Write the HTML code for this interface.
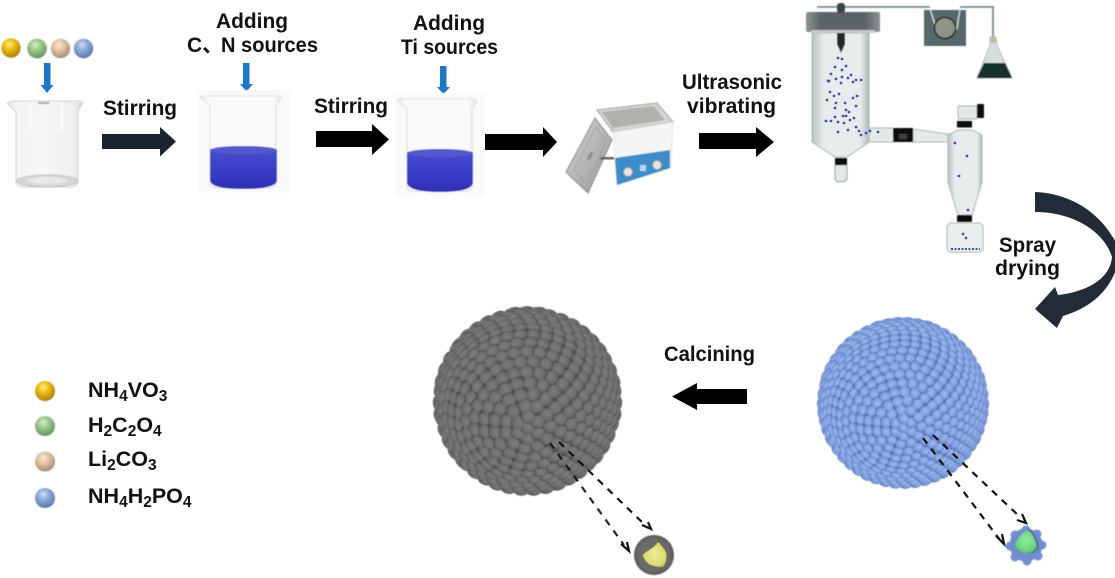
<!DOCTYPE html>
<html><head><meta charset="utf-8"><style>
html,body{margin:0;padding:0;background:#fff;width:1115px;height:578px;overflow:hidden}
svg{display:block}
text{font-family:"Liberation Sans","Noto Sans CJK SC",sans-serif;font-weight:700;fill:#111;font-size:21px}
.l{font-size:21.5px}
.s{font-size:15.5px}
</style></head><body>
<svg id="v" width="1115" height="578" viewBox="0 0 1115 578" xmlns="http://www.w3.org/2000/svg">
<defs>
<radialGradient id="by" cx=".42" cy=".32" r=".75"><stop offset="0" stop-color="#ffec80"/><stop offset=".35" stop-color="#eebf18"/><stop offset=".8" stop-color="#b98a08"/><stop offset="1" stop-color="#8a7430"/></radialGradient>
<radialGradient id="bg" cx=".42" cy=".32" r=".75"><stop offset="0" stop-color="#d6ecc8"/><stop offset=".4" stop-color="#9cc68a"/><stop offset=".85" stop-color="#6f9868"/><stop offset="1" stop-color="#6a8570"/></radialGradient>
<radialGradient id="bp" cx=".42" cy=".32" r=".75"><stop offset="0" stop-color="#f8e8d6"/><stop offset=".4" stop-color="#e2c0a0"/><stop offset=".85" stop-color="#ae927e"/><stop offset="1" stop-color="#8e8278"/></radialGradient>
<radialGradient id="bb" cx=".42" cy=".32" r=".75"><stop offset="0" stop-color="#d0def6"/><stop offset=".4" stop-color="#8aa8d8"/><stop offset=".85" stop-color="#5f80ae"/><stop offset="1" stop-color="#5e7090"/></radialGradient>
<radialGradient id="gb" cx=".45" cy=".4" r=".6"><stop offset="0" stop-color="#7c7c7c"/><stop offset=".7" stop-color="#6e6e6e"/><stop offset="1" stop-color="#525252"/></radialGradient>
<radialGradient id="ub" cx=".45" cy=".4" r=".6"><stop offset="0" stop-color="#9ab8f0"/><stop offset=".65" stop-color="#83a2e0"/><stop offset="1" stop-color="#5a76b6"/></radialGradient>
<radialGradient id="edgeG" cx=".5" cy=".5" r=".5"><stop offset=".8" stop-color="#000" stop-opacity="0"/><stop offset="1" stop-color="#222" stop-opacity=".22"/></radialGradient>
<radialGradient id="core" cx=".5" cy=".45" r=".6"><stop offset="0" stop-color="#8ef09a"/><stop offset=".8" stop-color="#6ccf80"/><stop offset="1" stop-color="#3f8a5a"/></radialGradient>
<radialGradient id="yc" cx=".5" cy=".5" r=".6"><stop offset="0" stop-color="#eeee94"/><stop offset=".8" stop-color="#d8d870"/><stop offset="1" stop-color="#a8a850"/></radialGradient>
<linearGradient id="glass" x1="0" x2="1" y1="0" y2="0"><stop offset="0" stop-color="#dcdee0"/><stop offset=".12" stop-color="#f4f5f6"/><stop offset=".5" stop-color="#f5f6f7"/><stop offset=".88" stop-color="#eff0f1"/><stop offset="1" stop-color="#d2d5d7"/></linearGradient>
<linearGradient id="glass2" x1="0" x2="1" y1="0" y2="0"><stop offset="0" stop-color="#e8e9ee"/><stop offset=".1" stop-color="#fafafc"/><stop offset=".9" stop-color="#fafafc"/><stop offset="1" stop-color="#e4e5ea"/></linearGradient>
<linearGradient id="liq" x1="0" x2="0" y1="0" y2="1"><stop offset="0" stop-color="#4a4ed0"/><stop offset=".6" stop-color="#383cc8"/><stop offset="1" stop-color="#2c30b0"/></linearGradient>
<linearGradient id="tube" x1="0" x2="1" y1="0" y2="0"><stop offset="0" stop-color="#b8c2c2"/><stop offset=".2" stop-color="#e6ebeb"/><stop offset=".85" stop-color="#e8ecec"/><stop offset="1" stop-color="#aeb8b8"/></linearGradient>
<linearGradient id="lid" x1="0" x2="1" y1="0" y2="0"><stop offset="0" stop-color="#8c9494"/><stop offset=".2" stop-color="#5c6466"/><stop offset=".8" stop-color="#5c6466"/><stop offset="1" stop-color="#8c9494"/></linearGradient>
<linearGradient id="steel" x1="0" x2="1" y1="0" y2="1"><stop offset="0" stop-color="#d8d8d8"/><stop offset=".5" stop-color="#b6b6b6"/><stop offset="1" stop-color="#969696"/></linearGradient>
<filter id="bl" x="-5%" y="-5%" width="110%" height="110%"><feGaussianBlur stdDeviation=".55"/></filter>
</defs>
<rect width="1115" height="578" fill="#fff"/>

<g filter="url(#bl)">
<circle cx="11" cy="48" r="9.7" fill="url(#by)"/><circle cx="37" cy="48.500" r="9.9" fill="url(#bg)"/><circle cx="60.500" cy="48.500" r="9.7" fill="url(#bp)"/><circle cx="83.500" cy="48.500" r="9.7" fill="url(#bb)"/>
</g>
<g fill="#1f77c8">
<path d="M44,63h6.500v22h3l-6.500,8l-6.500,-8h3.500z"/>
<path d="M243,63h6.500v21h3.500l-6.500,7.500l-6.500,-7.500h3z"/>
<path d="M440,66h6.500v21h3.500l-6.500,7l-6.500,-7h3z"/>
</g>

<g filter="url(#bl)">
<path d="M7,103 L12,101 H80 L83,103 L78,111 V180 Q78,187 70,187 H23 Q16,187 16,180 V112 Z" fill="url(#glass)" stroke="#cfd2d4" stroke-width="1"/>
<path d="M30,104V130M62,104V130" stroke="#fbfbfb" stroke-width="3" fill="none"/>
<ellipse cx="47" cy="181" rx="30" ry="6" fill="#d6d8d9" stroke="#bcbfc0"/>
<ellipse cx="47" cy="180.500" rx="20" ry="3.500" fill="#e6e8e9"/>
<rect x="38" y="102" width="11" height="2" fill="#a6a9ab"/>
<rect x="197" y="90" width="93" height="103" fill="#fafafb"/>
<rect x="395" y="93" width="90" height="103" fill="#fafafb"/>
<path d="M200,97 L206,96 H278 L281,98 L276,106 V183 Q276,188 268,188 H218 Q210,188 210,183 V106 Z" fill="url(#glass2)" stroke="#dcdde2"/>
<path d="M210,150 Q243,142 277,150 V180 Q277,189 243,189 Q210,189 210,180 Z" fill="url(#liq)"/>
<ellipse cx="243.500" cy="150" rx="33.500" ry="4" fill="#5458cc"/>
<path d="M397,100 L403,99 H474 L477,101 L472,109 V186 Q472,191 464,191 H415 Q407,191 407,186 V109 Z" fill="url(#glass2)" stroke="#dcdde2"/>
<path d="M407,153 Q440,145 473,153 V182 Q473,192 440,192 Q407,192 407,182 Z" fill="url(#liq)"/>
<ellipse cx="440" cy="153" rx="33" ry="4" fill="#5458cc"/>
</g>

<path d="M102,134H160V127L176,141.500L160,156.500V149H102Z" fill="#1c2430"/>
<path d="M316,131H372V124L389,139.500L372,155V147H316Z" fill="#000"/>
<path d="M485,134H543V127L557,142L543,157V150H485Z" fill="#000"/>
<path d="M699,133H756V127L774,142L756,157V149H699Z" fill="#000"/>
<path d="M747,389H697V383L672,396.500L697,410V404H747Z" fill="#000"/>

<g filter="url(#bl)">
<path d="M597,110 L657,103 L673,122 L613,132 Z" fill="#d4d4d4" stroke="#a0a0a0"/>
<path d="M602,112 L654,106 L665,120 L613,128 Z" fill="#b0b0ac"/>
<path d="M613,132 L673,122 L671,168 L617,185 Z" fill="#f4f5f7" stroke="#d4d4d4" stroke-width=".5"/>
<path d="M615,158 L670,150 L670,168 L617,185 Z" fill="#3a8cc8"/>
<circle cx="628" cy="172" r="4.500" fill="#e6e6e6" stroke="#999"/><circle cx="657" cy="165" r="4.500" fill="#e6e6e6" stroke="#999"/>
<rect x="640" y="165" width="6" height="6" fill="#b8d8ee"/>
<path d="M566,172 L595,118 L612,140 L588,193 Z" fill="url(#steel)" stroke="#8c8c8c"/>
<path d="M574,170 L596,127 L606,141 L587,184 Z" fill="none" stroke="#a0a0a0" stroke-width=".8"/>
<ellipse cx="590" cy="156" rx="4.500" ry="1.800" fill="#888" transform="rotate(-60 590 156)"/>
<rect x="600" y="157" width="14" height="2.500" fill="#666"/>
</g>

<g filter="url(#bl)">
<path d="M817,7H930M960,7H993V38" fill="none" stroke="#7d8c8c" stroke-width="1.800"/>
<path d="M812,33H869V142L847,157H835L812,142Z" fill="url(#tube)" stroke="#a8b2b2"/>
<rect x="806" y="12" width="74" height="20" rx="2" fill="url(#lid)"/>
<rect x="811" y="30" width="64" height="3" fill="#c5cbcb"/>
<rect x="837" y="3" width="8" height="10" rx="3" fill="#3c4446"/>
<path d="M837,33H845V44L841,53L837,44Z" fill="#23292a"/>
<path d="M835,165H847V178Q847,182 841,182Q835,182 835,178Z" fill="#e2e7e7" stroke="#98a2a2"/>
<rect x="835" y="158" width="12" height="7" fill="#0c0c0c"/>
<path d="M869,128H894V142H869Z M913,129L948,134V142H913Z" fill="#e4eaea" stroke="#a8b2b2"/>
<rect x="893" y="128" width="20" height="14" fill="#111"/>
<rect x="899" y="134" width="8" height="5" fill="#3c4442"/>
<path d="M958,130H972L982,135V182L972,215H958L948,182V135Z" fill="url(#tube)" stroke="#a8b2b2"/>
<rect x="958" y="106" width="19" height="13" rx="1" fill="#e2e7e7" stroke="#a8b2b2"/>
<rect x="977" y="104" width="7" height="14" rx="1" fill="#111"/>
<rect x="957" y="121" width="15" height="6.500" fill="#0c0c0c"/>
<rect x="957" y="215" width="15" height="7" rx="1" fill="#0c0c0c"/>
<path d="M950,223H980L983,226V250L980,252H950L947,250V226Z" fill="#eaeeee" stroke="#a8b2b2"/>
<rect x="924" y="10" width="42" height="36" fill="#57686b"/>
<path d="M930,9 L936,28 Q945,44 957,28 L960,9" fill="none" stroke="#c8d0d0" stroke-width="1.500"/>
<circle cx="945" cy="28" r="10.500" fill="#8d9588" stroke="#222" stroke-width="1.500"/>
<path d="M990,37H996L997,45L1012,78H977L990,45Z" fill="#d8dede" stroke="#a0a8a8" stroke-width=".7"/>
<path d="M984,63H1005L1012,78H977Z" fill="#17302e"/>
<path d="M990,37h6v6h-6z" fill="#c3b9a0"/>
</g>
<g id="dots" fill="#4a4fb0"></g>
<path d="M951,249H980" stroke="#4a4fb0" stroke-width="2" stroke-dasharray="2 1.500"/>

<path d="M1035,192C1065,193 1095,208 1112,236L1118,245V262C1112,290 1090,308 1063,316L1057,328L1035,309L1055,287L1058,295C1085,292 1110,280 1112,257C1105,233 1075,212 1035,212Z" fill="#232a38"/>

<g filter="url(#bl)"><circle cx="527.5" cy="401" r="91" fill="#4e4e4e"/><g id="sg"></g></g>
<g filter="url(#bl)"><circle cx="903" cy="403" r="83" fill="#5570b0"/><g id="sb"></g></g>

<g stroke="#111" stroke-width="2.200" fill="none" stroke-dasharray="7 6.500">
<path d="M559,442L645,525" /><path d="M550,443L624,545" opacity=".9"/>
<path d="M933,435L1020,517"/><path d="M923,438L1000,540"/>
</g>
<g fill="none" stroke="#111" stroke-width="2.200">
<path d="M642,525L651,529L648,522"/><path d="M621,544L629,551L627,542"/>
<path d="M1017,520L1026,523L1022,514"/><path d="M996,536L1004,544L1002,534"/>
</g>

<g filter="url(#bl)">
<circle cx="654" cy="555" r="20" fill="#6a6a6a"/><circle cx="654" cy="555" r="20" fill="url(#edgeG)"/>
<path d="M642,555C648,549 654,548 658,541C662,546 667,550 667,556C667,561 666,564 664,567C657,568 650,566 647,563C645,561 643,558 642,555Z" fill="url(#yc)" stroke="#4c4c30" stroke-width=".8"/>
<g fill="#7590d0"><circle cx="1026" cy="530" r="4.500"/><circle cx="1037" cy="534" r="4.500"/><circle cx="1042" cy="545" r="4.500"/><circle cx="1038" cy="556" r="4.500"/><circle cx="1027" cy="561" r="4.500"/><circle cx="1015" cy="557" r="4.500"/><circle cx="1010" cy="546" r="4.500"/><circle cx="1015" cy="535" r="4.500"/></g>
<circle cx="1026" cy="545" r="16.500" fill="#6f8ccc"/>
<path d="M1015,546C1017,538 1022,533 1027,530C1033,534 1037,542 1037,549C1036,553 1032,554 1026,553C1021,553 1017,551 1015,546Z" fill="url(#core)"/>
<path d="M1028,529C1034,533 1038,541 1038,550" fill="none" stroke="#3c5890" stroke-width="1.200"/>
</g>

<g filter="url(#bl)">
<circle cx="45" cy="391" r="10" fill="url(#by)"/><circle cx="45" cy="426" r="10" fill="url(#bg)"/><circle cx="45" cy="461.500" r="10" fill="url(#bp)"/><circle cx="45" cy="498" r="10" fill="url(#bb)"/>
</g>

<text x="216" y="28" textLength="72" lengthAdjust="spacingAndGlyphs">Adding</text>
<text x="187" y="52">C、</text>
<text x="221" y="52" textLength="97" lengthAdjust="spacingAndGlyphs">N sources</text>
<text x="413" y="30" textLength="72" lengthAdjust="spacingAndGlyphs">Adding</text>
<text x="401" y="54" textLength="97" lengthAdjust="spacingAndGlyphs">Ti sources</text>
<text x="103" y="115" textLength="74" lengthAdjust="spacingAndGlyphs">Stirring</text>
<text x="314" y="113" textLength="74" lengthAdjust="spacingAndGlyphs">Stirring</text>
<text x="682" y="89" textLength="100" lengthAdjust="spacingAndGlyphs">Ultrasonic</text>
<text x="687" y="113" textLength="89" lengthAdjust="spacingAndGlyphs">vibrating</text>
<text x="999" y="252" textLength="57" lengthAdjust="spacingAndGlyphs">Spray</text>
<text x="995" y="275" textLength="65" lengthAdjust="spacingAndGlyphs">drying</text>
<text x="664" y="361" textLength="91" lengthAdjust="spacingAndGlyphs">Calcining</text>
<text class="l" x="88" y="397">NH<tspan class="s" dy="4">4</tspan><tspan dy="-4">VO</tspan><tspan class="s" dy="4">3</tspan></text>
<text class="l" x="88" y="432">H<tspan class="s" dy="4">2</tspan><tspan dy="-4">C</tspan><tspan class="s" dy="4">2</tspan><tspan dy="-4">O</tspan><tspan class="s" dy="4">4</tspan></text>
<text class="l" x="88" y="466">Li<tspan class="s" dy="4">2</tspan><tspan dy="-4">CO</tspan><tspan class="s" dy="4">3</tspan></text>
<text class="l" x="88" y="503">NH<tspan class="s" dy="4">4</tspan><tspan dy="-4">H</tspan><tspan class="s" dy="4">2</tspan><tspan dy="-4">PO</tspan><tspan class="s" dy="4">4</tspan></text>
</svg>
<script>
var NS="http://www.w3.org/2000/svg";
function fill(id,cx,cy,R,d,grad){
  var g=document.getElementById(id),pts=[],t=.3,ct=Math.cos(t),st=Math.sin(t),
      dT=d*.88/R,ring=0;
  for(var th=0;th<2.1;th+=dT,ring++){
    var n=Math.max(1,Math.round(2*Math.PI*Math.sin(th)*R/d));
    for(var j=0;j<n;j++){
      var f=(j+ring*.5)/n*2*Math.PI,x=Math.sin(th)*Math.cos(f),y=Math.sin(th)*Math.sin(f),z=Math.cos(th),
          y2=y*ct+z*st,z2=-y*st+z*ct;
      if(z2>-.02)pts.push([x,y2,z2]);
    }
  }
  pts.sort(function(a,b){return a[2]-b[2]});
  var br=d*.54;
  pts.forEach(function(p){var e=document.createElementNS(NS,"ellipse"),
    k=Math.max(.55,p[2]),ang=Math.atan2(p[1],p[0])*180/Math.PI,
    X=cx+p[0]*R,Y=cy+p[1]*R;
    e.setAttribute("cx",X.toFixed(1));e.setAttribute("cy",Y.toFixed(1));
    e.setAttribute("rx",(br*k).toFixed(1));e.setAttribute("ry",br.toFixed(1));
    e.setAttribute("transform","rotate("+ang.toFixed(0)+" "+X.toFixed(1)+" "+Y.toFixed(1)+")");
    e.setAttribute("fill","url(#"+grad+")");g.appendChild(e);});
}
fill("sg",527.5,401,91,13,"gb");
fill("sb",903,403,83,10.4,"ub");
var D=[[838,58],[842,59],[835,67],[842,70],[846,66],[831,74],[842,77],[828,81],[836,79],[848,78],[851,75],[861,80],[856,80],[829,81],[841,83],[853,82],[830,92],[834,96],[839,94],[853,98],[857,96],[827,100],[836,103],[845,103],[835,108],[846,110],[856,106],[831,121],[835,117],[843,116],[849,112],[854,118],[826,121],[844,123],[846,116],[850,120],[838,122],[838,132],[848,130],[856,127],[859,131],[861,135],[866,133],[878,132],[870,131],[955,143],[967,156],[959,176],[968,210],[963,234],[966,238]];
var dg=document.getElementById("dots");
D.forEach(function(p){var c=document.createElementNS(NS,"circle");c.setAttribute("cx",p[0]);c.setAttribute("cy",p[1]);c.setAttribute("r","1.400");dg.appendChild(c);});
</script>
</body></html>
